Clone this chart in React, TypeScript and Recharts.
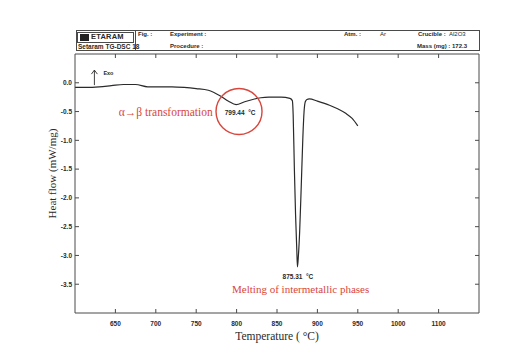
import { Label, Line, LineChart, ReferenceDot, XAxis, YAxis } from 'recharts'

// DSC trace: temperature (°C) vs heat flow (mW/mg)
const temperature = [
  600, 615, 630, 645, 660, 675, 690, 705, 720, 735, 750, 765, 780, 790, 799.4, 810, 820, 830, 840,
  855, 866, 869, 870, 871.5, 873, 874.5, 875.3, 876.5, 878, 880, 882, 883.5, 885, 887, 890, 900,
  915, 925, 935, 943, 950,
]
const heatFlow = [
  -0.08, -0.08, -0.07, -0.05, -0.03, -0.03, -0.07, -0.07, -0.07, -0.08, -0.1, -0.13, -0.23, -0.32,
  -0.38, -0.33, -0.29, -0.26, -0.25, -0.25, -0.27, -0.31, -0.55, -1.5, -2.3, -2.9, -3.2, -3.0, -2.6,
  -1.8, -0.95, -0.5, -0.33, -0.29, -0.28, -0.32, -0.39, -0.45, -0.53, -0.62, -0.75,
]

const xTicks = [650, 700, 750, 800, 850, 900, 950, 1000, 1050]
const xTickLabels = ['650', '700', '750', '800', '850', '900', '950', '1000', '1100']
const yTicks = [0, -0.5, -1, -1.5, -2, -2.5, -3, -3.5]

const rows = temperature.map((t, i) => ({ t, hf: heatFlow[i] }))

const SANS = '"Liberation Sans", Arial, sans-serif'
const SERIF = '"Liberation Serif", "Times New Roman", serif'
const INK = '#2a2a2a'
const AXIS = '#4a4a4a'
const RED = '#d8463c'

const tickStyle = { fill: INK, fontSize: 6.5, fontWeight: 700, fontFamily: SANS }

// text pinned to a data point (annotations on the thermogram)
function note(text: string, color: string, size: number, family: string, bold = false) {
  return (p: any) => (
    <text
      x={p.cx}
      y={p.cy}
      textAnchor="middle"
      dominantBaseline="central"
      fill={color}
      fontSize={size}
      fontFamily={family}
      fontWeight={bold ? 700 : 400}
      style={{ whiteSpace: 'pre' }}
    >
      {text}
    </text>
  )
}

function ExoArrow(p: any) {
  const { cx, cy } = p
  return (
    <g>
      <path d={`M${cx},${cy + 15} L${cx},${cy}`} stroke={INK} strokeWidth={0.9} />
      <path d={`M${cx - 3},${cy + 4} L${cx},${cy} L${cx + 3},${cy + 4}`} stroke={INK} strokeWidth={0.9} fill="none" />
      <text x={cx + 9} y={cy + 3} fill={INK} fontSize={5.5} fontWeight={700} fontFamily={SANS} dominantBaseline="central">
        Exo
      </text>
    </g>
  )
}

function Header() {
  const cell = { position: 'absolute' as const, fontFamily: SANS, fontWeight: 700, fontSize: 6, color: INK, lineHeight: '7px', whiteSpace: 'nowrap' as const }
  return (
    <div style={{ position: 'absolute', left: 76, top: 30, width: 404, height: 21, border: `1px solid ${AXIS}`, boxSizing: 'border-box' }}>
      <div style={{ position: 'absolute', left: 0, top: 1, width: 57, height: 11, border: `1px solid ${AXIS}`, boxSizing: 'border-box' }}>
        <div style={{ position: 'absolute', left: 2, top: 1, width: 9, height: 7, background: '#222' }} />
        <span style={{ ...cell, left: 13, top: 0, fontSize: 7.5, lineHeight: '8px', fontWeight: 900, letterSpacing: 0.2 }}>ETARAM</span>
      </div>
      <div style={{ position: 'absolute', left: 58, top: 0, width: 1, height: 19, background: AXIS }} />
      <span style={{ ...cell, left: 1, top: 12, fontSize: 6.5 }}>Setaram TG-DSC 18</span>
      <span style={{ ...cell, left: 61, top: 0 }}>Fig. :</span>
      <span style={{ ...cell, left: 93, top: 0 }}>Experiment :</span>
      <span style={{ ...cell, left: 93, top: 12 }}>Procedure :</span>
      <span style={{ ...cell, left: 267, top: 0 }}>Atm. :</span>
      <span style={{ ...cell, left: 303, top: 0, fontWeight: 400 }}>Ar</span>
      <span style={{ ...cell, left: 341, top: 0 }}>Crucible :</span>
      <span style={{ ...cell, left: 372, top: 0, fontWeight: 400 }}>Al2O3</span>
      <span style={{ ...cell, left: 340, top: 12 }}>Mass (mg) : 172.3</span>
    </div>
  )
}

export default function App() {
  return (
    <div style={{ position: 'absolute', left: 0, top: 0, width: 517, height: 357, background: '#fff' }}>
      <Header />
      <LineChart width={517} height={357} data={rows} margin={{ top: 53, right: 37, bottom: 0, left: 0 }}>
        <XAxis
          dataKey="t"
          type="number"
          domain={[600, 1100]}
          ticks={xTicks}
          tickFormatter={(v: number) => xTickLabels[xTicks.indexOf(v)] ?? ''}
          height={44}
          stroke={AXIS}
          tickSize={-4}
          tickMargin={12}
          tick={tickStyle}
          allowDataOverflow
        >
          <Label value="Temperature ( °C)" position="center" dy={1} fill={INK} fontSize={11.5} fontFamily={SERIF} />
        </XAxis>
        <XAxis
          xAxisId="top"
          dataKey="t"
          orientation="top"
          type="number"
          domain={[600, 1100]}
          ticks={xTicks}
          height={1}
          stroke={AXIS}
          tickSize={-4}
          tickFormatter={() => ''}
          allowDataOverflow
        />
        <YAxis
          type="number"
          domain={[-4, 0.5]}
          ticks={yTicks}
          tickFormatter={(v: number) => v.toFixed(1)}
          width={75}
          stroke={AXIS}
          tickSize={-4}
          tickMargin={7}
          tick={tickStyle}
          allowDataOverflow
        >
          <Label value="Heat flow (mW/mg)" angle={-90} position="center" dx={15} dy={-10} fill={INK} fontSize={11} fontFamily={SERIF} />
        </YAxis>
        <YAxis
          yAxisId="right"
          orientation="right"
          type="number"
          domain={[-4, 0.5]}
          ticks={yTicks}
          width={1}
          stroke={AXIS}
          tickSize={-4}
          tickFormatter={() => ''}
          allowDataOverflow
        />
        <Line
          type="monotone"
          dataKey="hf"
          stroke={INK}
          strokeWidth={1.2}
          dot={false}
          isAnimationActive={false}
        />
        {/* same trace on the mirror axes, invisible, so the frame axes are drawn */}
        <Line
          xAxisId="top"
          yAxisId="right"
          type="monotone"
          dataKey="hf"
          stroke="none"
          dot={false}
          activeDot={false}
          isAnimationActive={false}
        />
        <ReferenceDot x={803} y={-0.5} r={23} fill="none" stroke={RED} strokeWidth={1.4} />
        <ReferenceDot x={804.3} y={-0.515} shape={note('799.44  °C', INK, 6.5, SANS, true)} />
        <ReferenceDot x={875.9} y={-3.36} shape={note('875.31  °C', INK, 6.5, SANS, true)} />
        <ReferenceDot x={712.3} y={-0.5} shape={note('α→β transformation', RED, 11.5, SERIF)} />
        <ReferenceDot x={879.3} y={-3.59} shape={note('Melting of intermetallic phases', RED, 11, SERIF)} />
        <ReferenceDot x={624} y={0.22} shape={ExoArrow} />
      </LineChart>
    </div>
  )
}
